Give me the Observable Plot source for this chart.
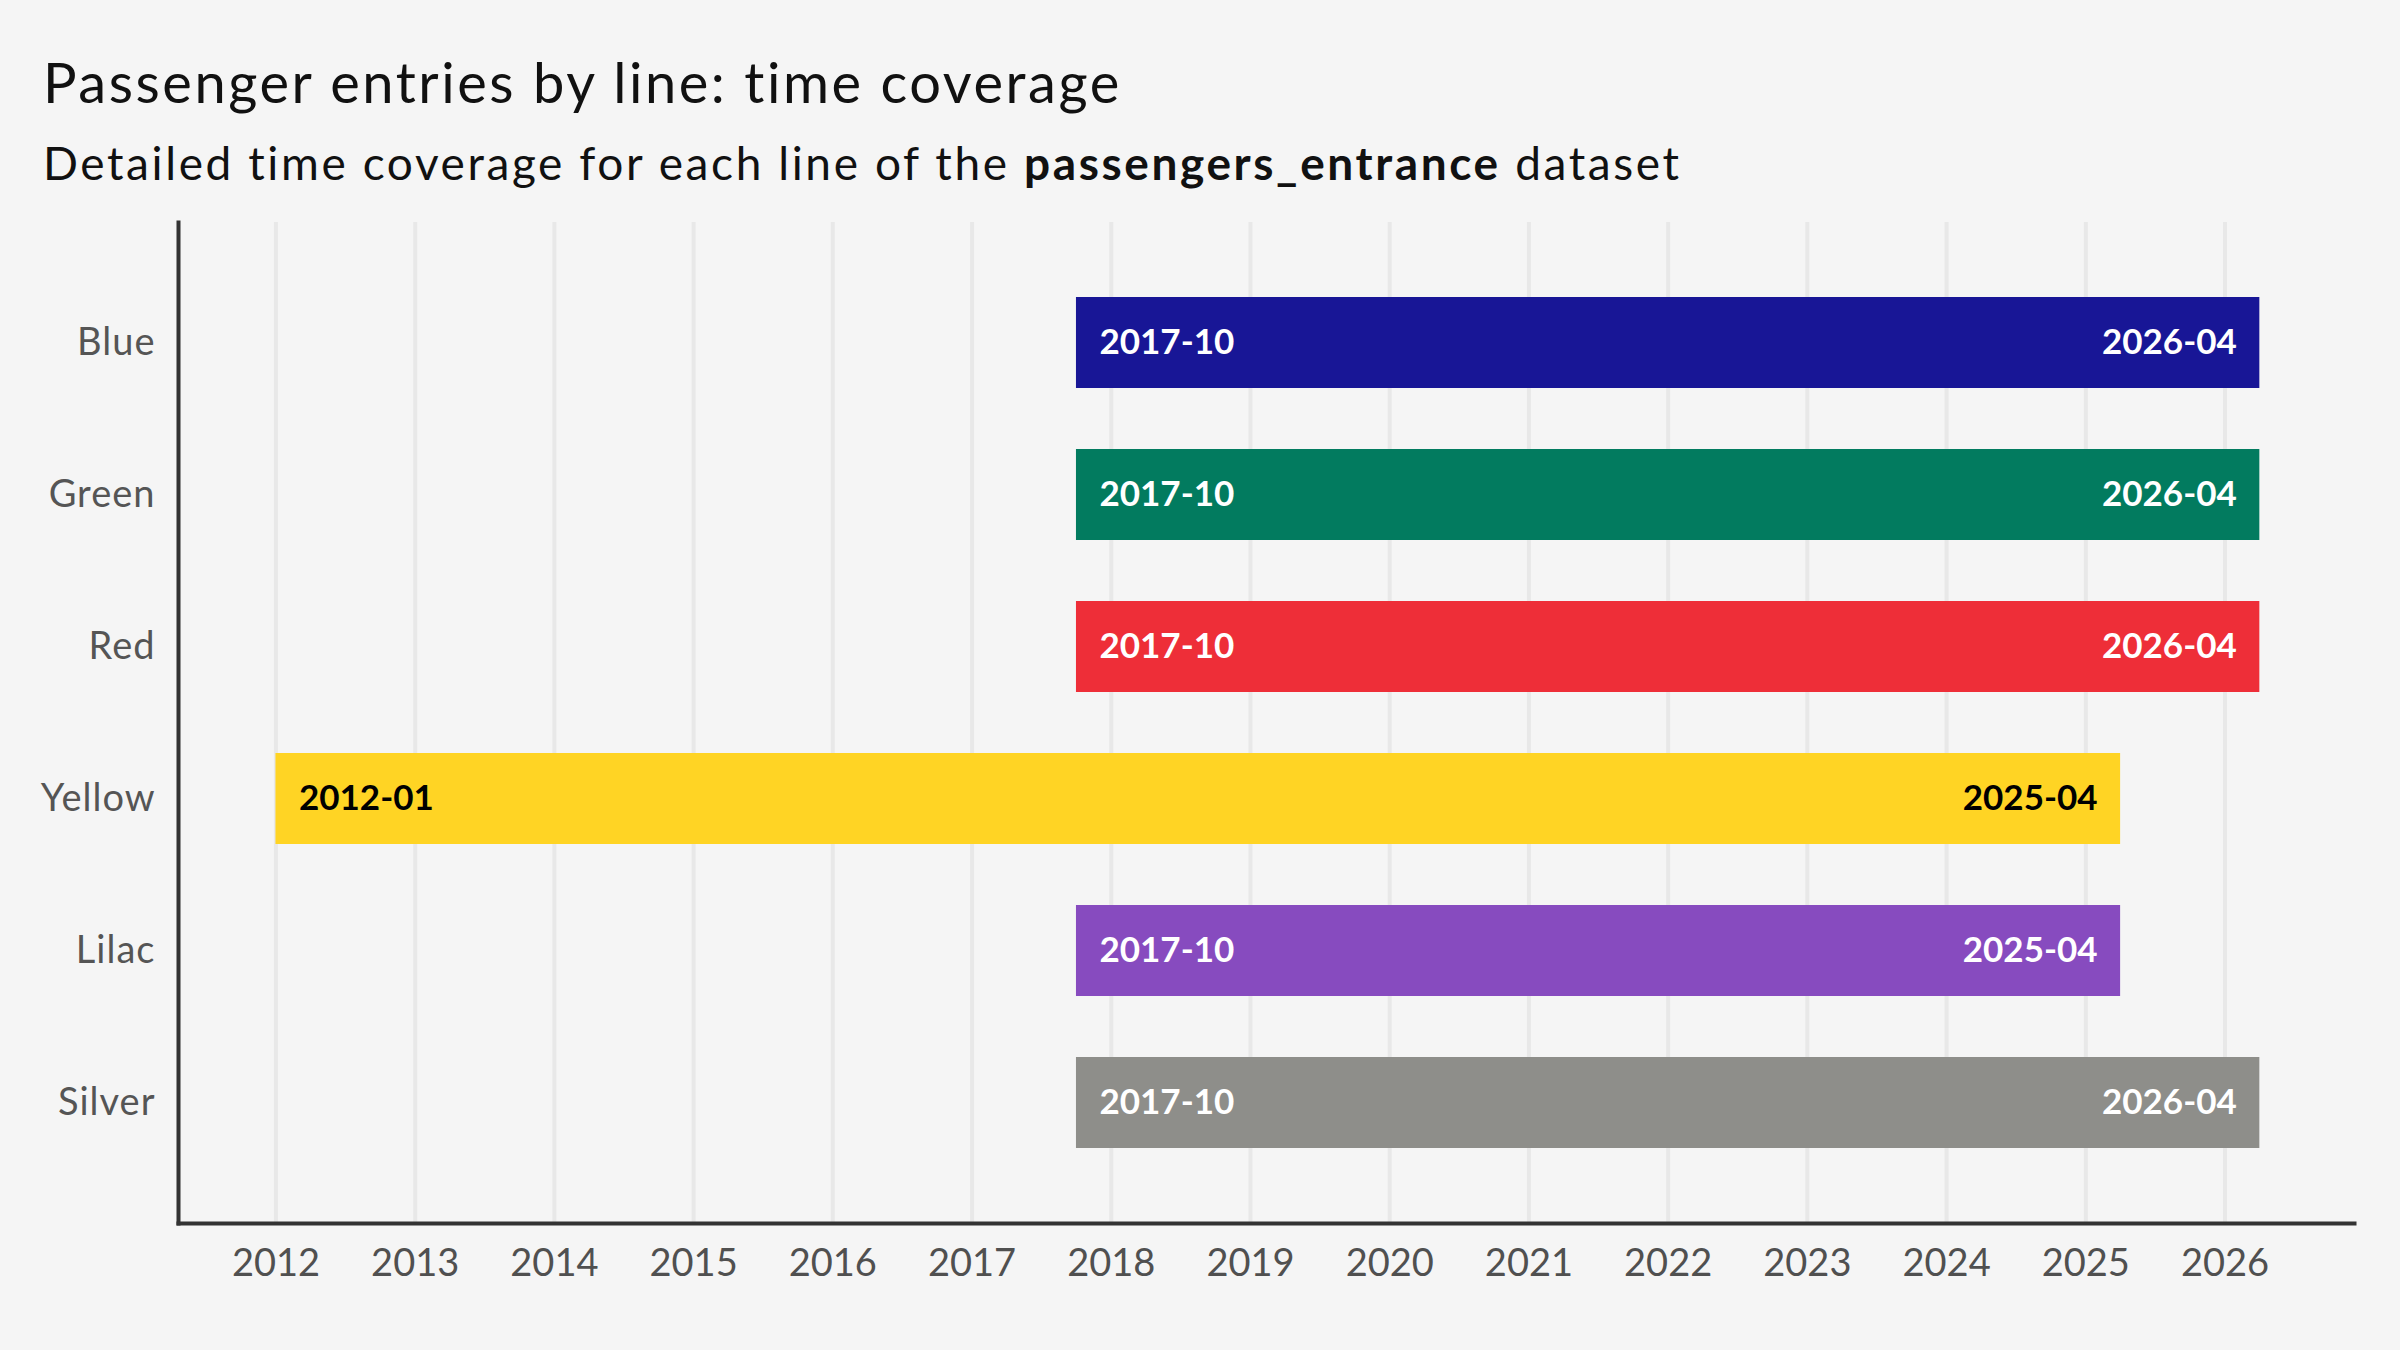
<!DOCTYPE html>
<html><head><meta charset="utf-8">
<script src="https://cdn.jsdelivr.net/npm/d3@7"></script>
<script src="https://cdn.jsdelivr.net/npm/@observablehq/plot@0.6"></script>
<style>
html,body{margin:0;padding:0;background:#f5f5f5;width:2400px;height:1350px;overflow:hidden;font-family:Lato,sans-serif;}
#title{position:absolute;left:43px;top:54px;font-size:56px;line-height:56px;color:#111;white-space:nowrap;letter-spacing:2.55px;}
#subtitle{position:absolute;left:43px;top:140px;font-size:46px;line-height:46px;color:#111;white-space:nowrap;letter-spacing:2.6px;}
#chart{position:absolute;left:0;top:200px;}
#chart g[aria-label="y-axis tick label"] text{letter-spacing:1px;}
</style></head><body>
<div id="title">Passenger entries by line: time coverage</div>
<div id="subtitle">Detailed time coverage for each line of the <b>passengers_entrance</b> dataset</div>
<div id="chart"></div>
<script>
const lines = ["Blue", "Green", "Red", "Yellow", "Lilac", "Silver"];
const startMonths = ["2017-10", "2017-10", "2017-10", "2012-01", "2017-10", "2017-10"];
const endMonths = ["2026-04", "2026-04", "2026-04", "2025-04", "2025-04", "2026-04"];
const lineColors = ["#181696", "#027b5f", "#ee2e38", "#ffd424", "#874bbf", "#8e8e8a"];
const labelColors = ["#ffffff", "#ffffff", "#ffffff", "#000000", "#ffffff", "#ffffff"];
const yearTicks = [2012, 2013, 2014, 2015, 2016, 2017, 2018, 2019, 2020, 2021, 2022, 2023, 2024, 2025, 2026];
const xDomain = [2011.30, 2026.93];

const toYear = s => +s.slice(0, 4) + (+s.slice(5, 7) - 1) / 12;
const rows = lines.map((line, i) => ({
  line,
  start: toYear(startMonths[i]),
  end: toYear(endMonths[i]),
  startLabel: startMonths[i],
  endLabel: endMonths[i],
  color: lineColors[i],
  labelColor: labelColors[i]
}));

const chart = Plot.plot({
  width: 2400,
  height: 1150,
  marginTop: 22,
  marginBottom: 127,
  marginLeft: 178,
  marginRight: 46,
  style: {background: "transparent", fontFamily: "Lato, sans-serif"},
  x: {domain: xDomain, label: null},
  y: {domain: lines, paddingInner: 0.4, paddingOuter: 0.48, label: null},
  color: {type: "identity"},
  marks: [
    Plot.gridX(yearTicks, {stroke: "#e8e8e8", strokeOpacity: 1, strokeWidth: 4}),
    Plot.barX(rows, {x1: "start", x2: "end", y: "line", fill: "color"}),
    Plot.text(rows, {x: "start", y: "line", text: "startLabel", textAnchor: "start", dx: 23, fill: "labelColor", fontSize: 35, fontWeight: "bold"}),
    Plot.text(rows, {x: "end", y: "line", text: "endLabel", textAnchor: "end", dx: -23, fill: "labelColor", fontSize: 35, fontWeight: "bold"}),
    Plot.axisX({ticks: yearTicks, tickFormat: d => String(d), tickSize: 0, tickPadding: 26, fontSize: 38, color: "#505050", label: null}),
    Plot.axisY({tickSize: 0, tickPadding: 23, fontSize: 38, color: "#555555", label: null}),
    Plot.frame({anchor: "left", stroke: "#333", strokeWidth: 4}),
    Plot.frame({anchor: "bottom", stroke: "#333", strokeWidth: 4})
  ]
});
document.getElementById("chart").appendChild(chart);
</script>
</body></html>
